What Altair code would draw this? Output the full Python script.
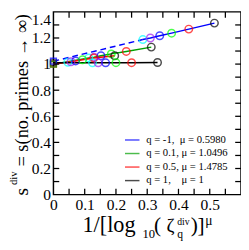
import altair as alt
import pandas as pd

# ---- data ----
series_labels = ["q = -1,\u00a0 μ = 0.5980", "q = 0.1, μ = 1.0496",
                 "q = 0.5, μ = 1.4785", "q = 1,\u00a0\u00a0\u00a0 μ = 1"]
line_colors = ["#0000ff", "#00a000", "#ff0000", "#000000"]
# point colours, from largest zeta (left) to smallest (right)
point_colors = ["#00ffff", "#a020f0", "#0000ff", "#00ff00", "#ff0000", "#000000"]

x_qm1 = [0.286, 0.310, 0.340, 0.378, 0.433, 0.515]
y_qm1 = [1.188, 1.200, 1.217, 1.237, 1.268, 1.314]
x_q01 = [0.113, 0.130, 0.152, 0.185, 0.233, 0.313]
y_q01 = [1.047, 1.053, 1.064, 1.078, 1.097, 1.130]
x_q05 = [0.046, 0.056, 0.071, 0.093, 0.129, 0.196]
y_q05 = [1.014, 1.018, 1.024, 1.033, 1.046, 1.064]
x_q1 = [0.125, 0.143, 0.167, 0.200, 0.250, 0.333]
y_q1 = [1.010, 1.010, 1.010, 1.011, 1.011, 1.012]
limits = [1.022, 1.000, 1.000, 1.010]   # extrapolated values at x = 0

x_ticks = [0.05, 0.1, 0.15, 0.2, 0.25, 0.3, 0.35, 0.4, 0.45, 0.5, 0.55]
y_ticks = [0.1, 0.2, 0.3, 0.4, 0.5, 0.6, 0.7, 0.8, 0.9, 1.0, 1.1, 1.2, 1.3]
x_labels = [0, 0.1, 0.2, 0.3, 0.4, 0.5]
y_labels = [0, 0.2, 0.4, 0.6, 0.8, 1.0, 1.2, 1.4]

W, H = 194, 189
FONT = "Liberation Serif"
xs = alt.Scale(domain=[0, 0.6], nice=False, zero=False)
ys = alt.Scale(domain=[0, 1.4], nice=False, zero=False)

ax_common = dict(format="~g", title=None, ticks=False, domain=False, grid=False,
                 labelFont=FONT, labelFontSize=16, labelColor="black",
                 labelOverlap=False, labelFlush=False)
AX = alt.Axis(values=x_labels, labelPadding=2, **ax_common)
AY = alt.Axis(values=y_labels, labelPadding=3,
              labelBaseline={"condition": {"test": "datum.value >= 1.35", "value": "top"},
                             "value": "middle"},
              **ax_common)
X0 = lambda f: alt.X(f, scale=xs, axis=AX)
Y0 = lambda f: alt.Y(f, scale=ys, axis=AY)

xs_all = [x_qm1, x_q01, x_q05, x_q1]
ys_all = [y_qm1, y_q01, y_q05, y_q1]

line_rows, pt_rows, sq_rows = [], [], []
for s, (lab, xv, yv, y0, lc) in enumerate(zip(series_labels, xs_all, ys_all, limits, line_colors)):
    if s != 0:
        line_rows.append({"series": lab, "x": 0.0, "y": y0})
    for xi, yi, pc in zip(xv, yv, point_colors):
        line_rows.append({"series": lab, "x": xi, "y": yi})
        pt_rows.append({"x": xi, "y": yi, "c": pc, "s": s})
    sq_rows.append({"x": 0.0, "y": y0, "c": lc, "s": 3 - s})
line_df = pd.DataFrame(line_rows)
pt_df = pd.DataFrame(pt_rows)
sq_df = pd.DataFrame(sq_rows)
dash_df = pd.DataFrame({"x": [0.0, x_qm1[0]], "y": [limits[0], y_qm1[0]]})

lines = alt.Chart(line_df).mark_line(strokeWidth=1.5, clip=False).encode(
    x=X0("x:Q"), y=Y0("y:Q"),
    color=alt.Color("series:N", scale=alt.Scale(domain=series_labels, range=line_colors),
                    legend=alt.Legend(title=None, orient="none", legendX=73, legendY=124,
                                      symbolType="stroke", symbolSize=225, symbolStrokeWidth=1.5,
                                      labelFont=FONT, labelFontSize=11, labelColor="black",
                                      labelOffset=6, rowPadding=-2)),
    order="x:Q",
)

dashed = alt.Chart(dash_df).mark_line(strokeWidth=1.5, strokeDash=[6, 4], color="#0000ff").encode(
    x=X0("x:Q"), y=Y0("y:Q"))

points = alt.Chart(pt_df).mark_point(shape="circle", size=60, strokeWidth=1.5, filled=False, clip=False).encode(
    x=X0("x:Q"), y=Y0("y:Q"), color=alt.Color("c:N", scale=None), order="s:Q")

squares = alt.Chart(sq_df).mark_point(shape="square", size=36, strokeWidth=1.5, filled=False, clip=False).encode(
    x=X0("x:Q"), y=Y0("y:Q"), color=alt.Color("c:N", scale=None), order="s:Q")

xt = pd.DataFrame({"x": x_ticks})
yt = pd.DataFrame({"y": y_ticks})
tk = dict(color="black", strokeWidth=1.3)
xb = alt.Chart(xt).mark_rule(**tk).encode(x=X0("x:Q"), y=alt.value(H), y2=alt.value(H - 6))
xtop = alt.Chart(xt).mark_rule(**tk).encode(x=X0("x:Q"), y=alt.value(0), y2=alt.value(6))
yl = alt.Chart(yt).mark_rule(**tk).encode(y=Y0("y:Q"), x=alt.value(0), x2=alt.value(6))
yr = alt.Chart(yt).mark_rule(**tk).encode(y=Y0("y:Q"), x=alt.value(W), x2=alt.value(W - 6))


def txt(s, x, y, size, angle=0):
    return alt.Chart(pd.DataFrame({"t": [s]})).mark_text(
        font=FONT, fontSize=size, color="black", align="left", baseline="alphabetic", angle=angle
    ).encode(text="t:N", x=alt.value(x), y=alt.value(y))


titles = [
    txt("1/[log", 30, 228, 23),
    txt("10", 92, 234, 13),
    txt("(", 104, 228, 22),
    txt("ζ", 117, 228, 20),
    txt("div", 128, 220, 10),
    txt("q", 128, 234, 12),
    txt(")", 142, 228, 22),
    txt("]", 149, 228, 22),
    txt("μ", 157, 220, 14),
    txt("s", -26, 190, 20, 270),
    txt("div", -38, 179, 11, 270),
    txt("= s(no. primes → ∞)", -26, 160, 19, 270),
]

chart = alt.layer(lines, dashed, points, squares, xb, xtop, yl, yr, *titles).properties(
    width=W, height=H,
    autosize=alt.AutoSizeParams(type="none"),
    padding={"left": 47, "top": 0, "right": 0, "bottom": 45},
).configure_view(stroke="black", strokeWidth=1.5)

chart.save("out.html", embed_options={"renderer": "svg", "actions": False})
